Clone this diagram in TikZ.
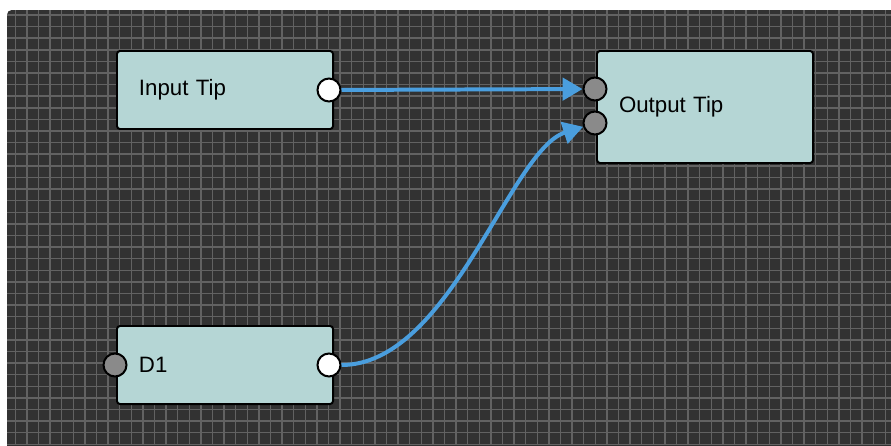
\documentclass[tikz,border=0pt]{standalone}
\usepackage{fontspec}
\setmainfont{Liberation Sans}
\usetikzlibrary{arrows.meta,positioning}
\definecolor{canvasbg}{RGB}{50,50,50}
\definecolor{gridln}{RGB}{98,98,98}
\definecolor{boxfill}{RGB}{181,214,213}
\definecolor{wireblue}{RGB}{74,158,222}
\definecolor{portgray}{RGB}{138,138,138}

\begin{document}
\begin{tikzpicture}[x=0.03cm, y=-0.03cm,
    block/.style={draw=black, line width=1.7pt, fill=boxfill, rounded corners=2.5pt,
      minimum width=6.48cm, minimum height=2.34cm, text width=5.16cm, align=left,
      inner xsep=0.66cm, text=black, font=\fontsize{19}{22}\selectfont},
    port/.style={circle, draw=black, line width=1.7pt, minimum size=0.69cm, inner sep=0pt},
    inport/.style={port, fill=portgray},
    outport/.style={port, fill=white},
    wire/.style={draw=wireblue, line width=3.4pt, -{Triangle[length=17pt, width=19pt]}}]
  \useasboundingbox (0,0) rectangle (891,445);
  \clip (0,0) rectangle (891,445);
  % canvas
  \fill[canvasbg, rounded corners=4pt] (7,10) rectangle (920,470);
  \begin{scope}
    \clip (7,10) rectangle (920,470);
    \foreach \i in {-1,...,76}
      \draw[gridln, line width=1.2pt] (15.3+11.6*\i,10) -- (15.3+11.6*\i,445);
    \foreach \j in {-1,...,37}
      \draw[gridln, line width=1.2pt] (7,15+11.6*\j) -- (891,15+11.6*\j);
  \end{scope}
  % blocks
  \node[block] (inp) at (225,90) {Input Tip};
  \node[block, minimum height=3.36cm] (outp) at (705,107) {Output Tip};
  \node[block] (d1) at (225,365) {D1};
  % ports
  \node[outport] (inp-out) at (329,90) {};
  \node[inport] (outp-in1) at (595,89) {};
  \node[inport] (outp-in2) at (595,123) {};
  \node[inport] (d1-in) at (115,365) {};
  \node[outport] (d1-out) at (329,365) {};
  % wires
  \draw[wire] (inp-out) -- (outp-in1);
  \draw[wire] (d1-out) .. controls (450,365) and (510,150) .. (outp-in2);
\end{tikzpicture}
\end{document}
